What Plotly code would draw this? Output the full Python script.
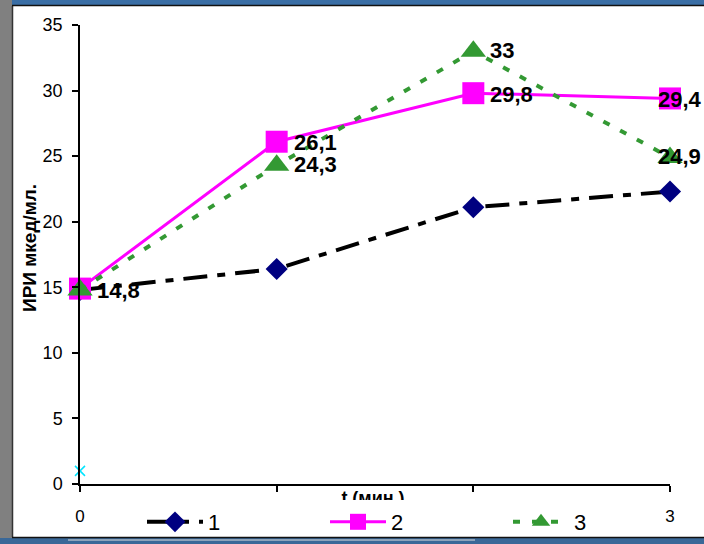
import plotly.graph_objects as go

# ---- data ----
x_vals = [0, 1, 2, 3]
series1 = [14.8, 16.4, 21.1, 22.3]
series2 = [14.9, 26.1, 29.8, 29.4]
series3 = [14.8, 24.3, 33.0, 24.9]
series_names = ["1", "2", "3"]
extra_x = [0]
extra_y = [1]
x_tick_labels = ["0", "", "", "3"]
y_title = "ИРИ мкед/мл."
x_title = "t (мин.)"

W, H = 704, 544
L, R, T, B = 80, 670, 25, 484  # plot area pixel bounds

def px(xp):
    return (xp - L) / (R - L)

def py(yp):
    return (B - yp) / (B - T)

fig = go.Figure()

fig.add_trace(go.Scatter(
    x=x_vals, y=series1, name=series_names[0], mode="lines+markers",
    line=dict(color="black", width=4, dash="24px,10px,8px,10px"),
    marker=dict(symbol="diamond", size=17, color="#000080"),
    cliponaxis=False))
fig.add_trace(go.Scatter(
    x=x_vals, y=series2, name=series_names[1], mode="lines+markers",
    line=dict(color="#ff00ff", width=3),
    marker=dict(symbol="square", size=22, color="#ff00ff"),
    cliponaxis=False))
fig.add_trace(go.Scatter(
    x=x_vals, y=series3, name=series_names[2], mode="lines+markers",
    line=dict(color="#339933", width=4, dash="7px,12px"),
    marker=dict(symbol="triangle-up", size=22, color="#339933"),
    cliponaxis=False))
fig.add_trace(go.Scatter(
    x=extra_x, y=extra_y, mode="markers", showlegend=False,
    marker=dict(symbol="x-thin", size=10, line=dict(color="#00e5ff", width=1.5)),
    cliponaxis=False))

def fmt(v):
    return (str(int(v)) if float(v).is_integer() else f"{v:.1f}").replace(".", ",")

annotations = []
lab_font = dict(family="Liberation Sans, Arial", size=22, color="black")
for i, (xv, yv) in enumerate(zip(x_vals, series3)):
    annotations.append(dict(x=xv, y=yv, text="<b>%s</b>" % fmt(yv), showarrow=False,
                            xanchor="left", yanchor="middle", font=lab_font,
                            xshift=(-14 if i == 3 else 15), yshift=(1 if i != 0 else -1)))
for i, (xv, yv) in enumerate(zip(x_vals, series2)):
    if i == 0:
        continue
    annotations.append(dict(x=xv, y=yv, text="<b>%s</b>" % fmt(yv), showarrow=False,
                            xanchor="left", yanchor="middle", font=lab_font,
                            xshift=(-14 if i == 3 else 15), yshift=-1))

annotations.append(dict(xref="paper", yref="paper", x=px(29), y=py(248), text="<b>%s</b>" % y_title,
                        textangle=-90, showarrow=False, xanchor="center", yanchor="middle",
                        font=dict(family="Liberation Sans, Arial", size=19, color="black")))
# x title, partly hidden (clipped box) as in the reference
annotations.append(dict(xref="paper", yref="paper", x=px(373), y=py(487), text="<b>%s</b>" % x_title,
                        showarrow=False, xanchor="center", yanchor="top",
                        height=12, width=90, valign="top", borderpad=0,
                        font=dict(family="Liberation Sans, Arial", size=18, color="black")))

shapes = [
    # left grey strip
    dict(type="rect", xref="paper", yref="paper", x0=px(0), x1=px(12), y0=py(544), y1=py(0),
         fillcolor="#808080", line=dict(width=0), layer="above"),
    dict(type="line", xref="paper", yref="paper", x0=px(12.5), x1=px(12.5), y0=py(537), y1=py(6),
         line=dict(color="#333333", width=1.5), layer="above"),
    # top blue bar
    dict(type="rect", xref="paper", yref="paper", x0=px(12), x1=px(704), y0=py(5), y1=py(0),
         fillcolor="#3a6ea5", line=dict(width=0), layer="above"),
    dict(type="line", xref="paper", yref="paper", x0=px(12), x1=px(704), y0=py(5.5), y1=py(5.5),
         line=dict(color="#111111", width=1.5), layer="above"),
    # bottom blue bar
    dict(type="rect", xref="paper", yref="paper", x0=px(0), x1=px(704), y0=py(544), y1=py(538),
         fillcolor="#3a6898", line=dict(width=0), layer="above"),
    dict(type="line", xref="paper", yref="paper", x0=px(12), x1=px(704), y0=py(537.5), y1=py(537.5),
         line=dict(color="#111111", width=1.5), layer="above"),
    dict(type="line", xref="paper", yref="paper", x0=px(68), x1=px(475), y0=py(540), y1=py(540),
         line=dict(color="#dddddd", width=1), layer="above"),
]

fig.update_layout(
    width=W, height=H,
    margin=dict(l=L, r=W - R, t=T, b=H - B, pad=0, autoexpand=False),
    paper_bgcolor="white", plot_bgcolor="white",
    font=dict(family="Liberation Sans, Arial", color="black"),
    showlegend=True,
    legend=dict(orientation="h", x=px(142), xanchor="left", y=py(522), yanchor="middle",
                font=dict(size=22, family="Liberation Sans, Arial", color="black"),
                entrywidth=112, entrywidthmode="pixels", bgcolor="rgba(0,0,0,0)",
                itemwidth=56, tracegroupgap=0),
    annotations=annotations,
    shapes=shapes,
)

fig.update_xaxes(range=[0, 3], tickvals=x_vals, ticktext=x_tick_labels,
                 showgrid=False, zeroline=False, showline=True, linecolor="black", linewidth=1.5,
                 ticks="outside", ticklen=6, tickcolor="black", tickwidth=1.5,
                 ticklabelstandoff=10,
                 tickfont=dict(size=17, family="Liberation Sans, Arial", color="black"))
fig.update_yaxes(range=[0, 35], tickvals=[0, 5, 10, 15, 20, 25, 30, 35],
                 showgrid=False, zeroline=False, showline=True, linecolor="black", linewidth=1.5,
                 ticks="outside", ticklen=6, tickcolor="black", tickwidth=1.5,
                 ticklabelstandoff=6,
                 tickfont=dict(size=18, family="Liberation Sans, Arial", color="black"))

fig.write_html("out.html", config={"displayModeBar": False},
               post_script="document.body.style.margin='0';document.body.style.overflow='hidden';")
